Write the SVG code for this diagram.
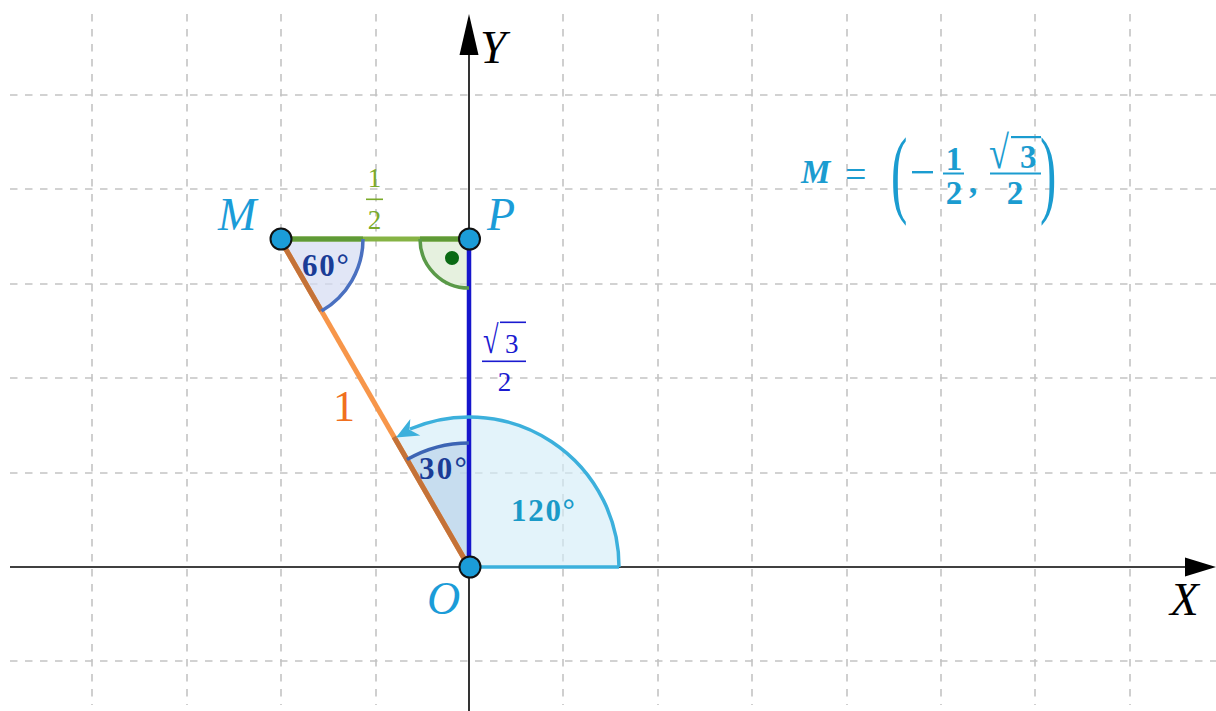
<svg xmlns="http://www.w3.org/2000/svg" width="1216" height="711" viewBox="0 0 1216 711">
<style>
.grid{stroke:#c4c4c4;stroke-width:1.6;stroke-dasharray:7.5 7.5;fill:none}
.axis{stroke:#000;stroke-width:1.6;fill:none}
.pt{fill:#1b9cd8;stroke:#111;stroke-width:2}
.lbl{font-family:"Liberation Serif","DejaVu Serif",serif;font-style:italic;font-size:46px;fill:#1b9cd8}
.ax{font-family:"Liberation Serif","DejaVu Serif",serif;font-style:italic;font-size:47px;fill:#000}
.deg{font-family:"Liberation Serif","DejaVu Serif",serif;font-weight:bold;font-size:31px}
.frac{font-family:"Liberation Serif","DejaVu Serif",serif;font-size:27px}
.fm{font-family:"Liberation Serif","DejaVu Serif",serif;font-weight:bold;font-size:33px;fill:#1b9cd0}
</style>
<rect width="1216" height="711" fill="#fff"/>
<g id="grid">
<path class="grid" d="M92 14V705M187 14V705M281 14V705M376 14V705M563 14V705M658 14V705M752 14V705M847 14V705M941 14V705M1035 14V705M1130 14V705"/>
<path class="grid" d="M10 95H1216M10 189H1216M10 284H1216M10 378H1216M10 473H1216M10 661H1216"/>
</g>
<g id="sectors">
<path id="angle120" d="M469 567L619 567A150 150 0 0 0 394 437.1Z" fill="#d4ecf8" fill-opacity="0.65"/>
<path id="angle30" d="M469 567L469 443A124 124 0 0 0 407 459.6Z" fill="#b4cfe8" fill-opacity="0.6"/>
<path id="angle60" d="M280 239L363 239A83 83 0 0 1 321.5 310.9Z" fill="#d4dcf2" fill-opacity="0.7"/>
<path id="angle90" d="M469 239L420 239A49 49 0 0 0 469 288Z" fill="#dcebd2" fill-opacity="0.7"/>
</g>
<g id="axes">
<line class="axis" x1="10" y1="567" x2="1190" y2="567"/>
<polygon points="1216,567 1185,557.5 1185,576.5" fill="#000"/>
<line class="axis" x1="469" y1="711" x2="469" y2="50"/>
<polygon points="469,14 459.5,55 478.5,55" fill="#000"/>
</g>
<g id="connectors">
<line id="MP" x1="280" y1="239" x2="469" y2="239" stroke="#86b344" stroke-width="5"/>
<line x1="280" y1="239" x2="363" y2="239" stroke="#5f9a36" stroke-width="5"/>
<line x1="420" y1="239" x2="469" y2="239" stroke="#5f9a36" stroke-width="5"/>
<line id="OM" x1="469" y1="567" x2="280" y2="239" stroke="#f7964a" stroke-width="5"/>
<line x1="280" y1="239" x2="321.5" y2="310.9" stroke="#c47238" stroke-width="5"/>
<line x1="469" y1="567" x2="394" y2="437.1" stroke="#c47238" stroke-width="5"/>
<line id="OP" x1="469" y1="567" x2="469" y2="239" stroke="#1616cc" stroke-width="4.5"/>
<path d="M619 567A150 150 0 0 0 410 429" fill="none" stroke="#3cb0dc" stroke-width="3.5"/>
<polygon points="396,437.5 410.3,418.9 409.5,429.7 420.3,435.6" fill="#3cb0dc"/>
<path d="M469 443A124 124 0 0 0 407 459.6" fill="none" stroke="#3c64b4" stroke-width="3.5"/>
<path d="M363 239A83 83 0 0 1 321.5 310.9" fill="none" stroke="#4a70c0" stroke-width="3.5"/>
<path d="M420 239A49 49 0 0 0 469 288" fill="none" stroke="#5a9a48" stroke-width="3.5"/>
<line x1="619" y1="567" x2="469" y2="567" stroke="#3cb0dc" stroke-width="3.5"/>
<circle cx="452" cy="258" r="7" fill="#0a6a14"/>
</g>
<g id="M"><circle class="pt" cx="281" cy="239" r="10.5"/><text class="lbl" x="218" y="230">M</text></g>
<g id="P"><circle class="pt" cx="469.5" cy="239" r="10.5"/><text class="lbl" x="487" y="230">P</text></g>
<g id="O"><circle class="pt" cx="470" cy="567" r="10.5"/><text class="lbl" x="427" y="614">O</text></g>
<g id="labels">
<text class="ax" x="480" y="63">Y</text>
<text class="ax" x="1170" y="615">X</text>
<text x="333" y="421" font-family="Liberation Serif,DejaVu Serif,serif" font-size="44" fill="#f07020">1</text>
<g fill="#7aaa2a"><text class="frac" x="374.5" y="187" text-anchor="middle">1</text><rect x="366" y="198.5" width="17" height="1.6"/><text class="frac" x="374.5" y="229" text-anchor="middle">2</text></g>
<g fill="#1a1ad0"><text class="frac" transform="translate(483,353) scale(1.05,1.45)">√</text><rect x="500" y="321.5" width="26" height="1.6"/><text class="frac" x="505" y="353" font-size="29">3</text><rect x="482" y="360.5" width="44" height="1.6"/><text class="frac" x="504.5" y="391" text-anchor="middle" font-size="29">2</text></g>
<text class="deg" x="302" y="276" fill="#1a3c96" textLength="47">60°</text>
<text class="deg" x="419" y="479" fill="#1a3c96" textLength="48">30°</text>
<text class="deg" x="511" y="521" fill="#1a9ac8" textLength="64">120°</text>
</g>
<g id="formula" class="fm">
<text x="801" y="183" font-style="italic" textLength="33">M</text>
<text x="845" y="187" font-weight="normal" font-size="38">=</text>
<text transform="translate(891,205) scale(0.5,1)" font-weight="normal" font-size="98">(</text>
<rect x="912" y="171" width="21" height="2.4"/>
<text x="954" y="170" text-anchor="middle">1</text>
<rect x="943" y="172.5" width="21" height="2"/>
<text x="954" y="204" text-anchor="middle">2</text>
<text x="969" y="193">,</text>
<text transform="translate(989,168) scale(1.1,1.4)">√</text>
<rect x="1011" y="136" width="30" height="2.2"/>
<text x="1020" y="168">3</text>
<rect x="990" y="172.5" width="51" height="2"/>
<text x="1015" y="204" text-anchor="middle">2</text>
<text transform="translate(1040,205) scale(0.5,1)" font-weight="normal" font-size="98">)</text>
</g>
</svg>
